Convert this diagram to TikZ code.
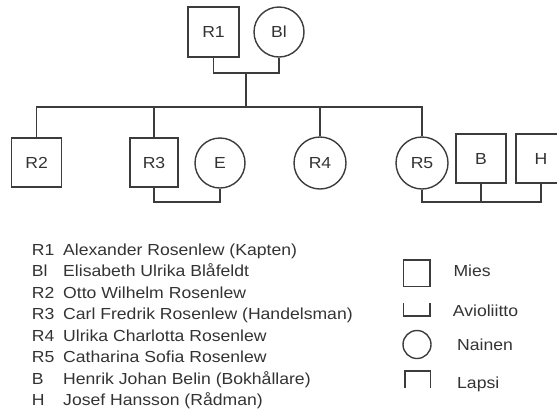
\documentclass[tikz,border=0pt]{standalone}
\usepackage{fontspec}
\setmainfont[FakeStretch=1.1]{Liberation Sans}
\definecolor{ln}{HTML}{3C3C3C}
\definecolor{tx}{HTML}{333333}
\begin{document}
\begin{tikzpicture}[x=1pt,y=-1pt,
  every node/.style={text=tx,font=\fontsize{16}{19}\selectfont},
  line/.style={draw=ln,line width=1.4pt},
  male/.style={line,rectangle,minimum width=50pt,minimum height=49pt,inner sep=0pt},
  female/.style={line,circle,minimum size=51pt,inner sep=0pt},
  leglab/.style={anchor=base west,inner sep=0pt},
]
\clip (0,0) rectangle (557,413);
% generation 1
\node[male,minimum width=51pt,minimum height=50pt] (R1) at (213.5,32) {R1};
\node[female,minimum size=50pt] (Bl) at (279,32) {Bl};
% generation 2
\node[male] (R2) at (36.7,162.5) {R2};
\node[male,minimum width=48pt] (R3) at (154,162.5) {R3};
\node[female,minimum size=50pt] (E) at (220,163) {E};
\node[female,minimum size=52pt] (R4) at (320,163) {R4};
\node[female,minimum size=52pt] (R5) at (422,163) {R5};
\node[male] (B) at (481,158.5) {B};
\node[male] (H) at (541,158.5) {H};
% connectors
\coordinate (m1) at (246,73);
\coordinate (sib) at (246,107);
\coordinate (m2) at (186,202);
\coordinate (m3) at (481,202);
\draw[line] (R1.south) |- (m1) -| (Bl.south);
\draw[line] (m1) -- (sib);
\draw[line] (R2.north) |- (sib) -| (R5.north);
\draw[line] (R3.north) -- (R3.north |- sib);
\draw[line] (R4.north) -- (R4.north |- sib);
\draw[line] (R3.south) |- (m2) -| (E.south);
\draw[line] (R5.south) |- (m3) -| (H.south);
\draw[line] (B.south) -- (m3);
% legend, left
\foreach \k/\a/\b in {0/R1/Alexander Rosenlew (Kapten),
                      1/Bl/Elisabeth Ulrika Blåfeldt,
                      2/R2/Otto Wilhelm Rosenlew,
                      3/R3/Carl Fredrik Rosenlew (Handelsman),
                      4/R4/Ulrika Charlotta Rosenlew,
                      5/R5/Catharina Sofia Rosenlew,
                      6/B/Henrik Johan Belin (Bokhållare),
                      7/H/Josef Hansson (Rådman)}{
  \node[leglab] (la\k) at (31.7,255+21.57*\k) {\a};
  \node[leglab] (lb\k) at (63,255+21.57*\k) {\b};
}
% legend, right
\node[line,rectangle,minimum size=26.7pt,inner sep=0pt] (legM) at (416.7,273.3) {};
\node[leglab] (tM) at (453.3,276.5) {Mies};
\coordinate (legA1) at (403.3,303);
\coordinate (legA2) at (430,303);
\draw[line] (legA1) -- ++(0,13) -| (legA2);
\node[leglab] (tA) at (452.7,316.5) {Avioliitto};
\node[line,circle,minimum size=28pt,inner sep=0pt] (legN) at (417,344.5) {};
\node[leglab] (tN) at (457,350) {Nainen};
\coordinate (legL1) at (405,388.3);
\coordinate (legL2) at (430.7,388.3);
\draw[line] (legL1) -- ++(0,-17.3) -| (legL2);
\node[leglab] (tL) at (457,388) {Lapsi};
\end{tikzpicture}
\end{document}
